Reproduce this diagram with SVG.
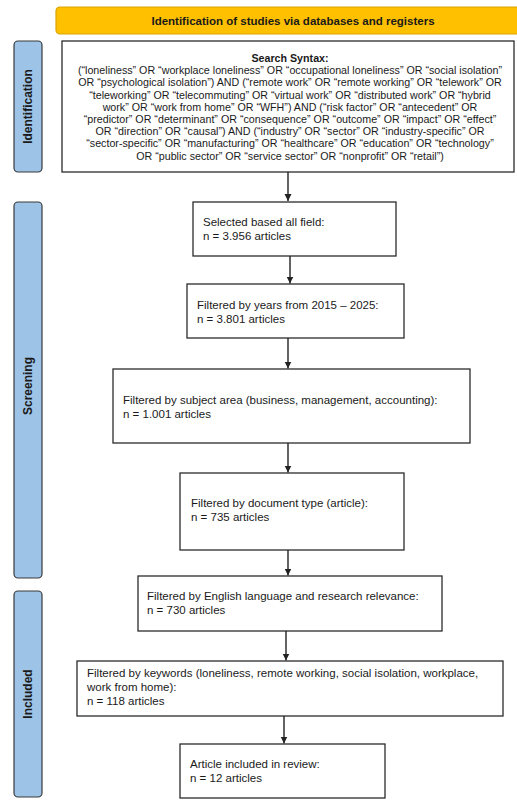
<svg xmlns="http://www.w3.org/2000/svg" width="517" height="802" viewBox="0 0 517 802">
<style>
.bg{fill:#ffffff}
.hdr{fill:#FFC000;stroke:#D9A300;stroke-width:1.2}
.side{fill:#9DC3E6;stroke:#3a3a3a;stroke-width:1.2}
.box{fill:#ffffff;stroke:#2b2b2b;stroke-width:1.3}
.t{font-family:"Liberation Sans",Arial,sans-serif;font-size:11.5px;fill:#1a1a1a}
.s{font-family:"Liberation Sans",Arial,sans-serif;font-size:10.7px;fill:#1a1a1a;text-anchor:middle}
.b{font-family:"Liberation Sans",Arial,sans-serif;font-weight:bold;fill:#1a1a1a;text-anchor:middle}
.c{stroke:#222;stroke-width:1.4;fill:none;marker-end:url(#ah)}
</style>
<defs>
<marker id="ah" markerWidth="8" markerHeight="8" refX="7" refY="4" orient="auto" markerUnits="userSpaceOnUse">
<path d="M0,0.5 L7,4 L0,7.5 Z" fill="#222"/>
</marker>
</defs>
<rect class="bg" x="0" y="0" width="517" height="802"/>

<g id="header">
<rect class="hdr" x="56" y="7" width="476" height="27" rx="4"/>
<text class="b" x="293" y="25" font-size="11.5">Identification of studies via databases and registers</text>
</g>

<g id="stage-identification">
<rect class="side" x="14" y="41" width="28" height="131" rx="4"/>
<text class="b" font-size="12" transform="translate(31.5,106.5) rotate(-90)">Identification</text>
</g>
<g id="stage-screening">
<rect class="side" x="14" y="202" width="28" height="376" rx="4"/>
<text class="b" font-size="12" transform="translate(31.5,386) rotate(-90)">Screening</text>
</g>
<g id="stage-included">
<rect class="side" x="14" y="591" width="28" height="206" rx="4"/>
<text class="b" font-size="12" transform="translate(31.5,694) rotate(-90)">Included</text>
</g>

<g id="search">
<rect class="box" x="62" y="41" width="452" height="131"/>
<text class="b" x="290" y="62" font-size="10.7">Search Syntax:</text>
<text class="s" x="290" y="74.2">(“loneliness” OR “workplace loneliness” OR “occupational loneliness” OR “social isolation”</text>
<text class="s" x="290" y="86.4">OR “psychological isolation”) AND (“remote work” OR “remote working” OR “telework” OR</text>
<text class="s" x="290" y="98.6">“teleworking” OR “telecommuting” OR “virtual work” OR “distributed work” OR “hybrid</text>
<text class="s" x="290" y="110.8">work” OR “work from home” OR “WFH”) AND (“risk factor” OR “antecedent” OR</text>
<text class="s" x="290" y="123">“predictor” OR “determinant” OR “consequence” OR “outcome” OR “impact” OR “effect”</text>
<text class="s" x="290" y="135.2">OR “direction” OR “causal”) AND (“industry” OR “sector” OR “industry-specific” OR</text>
<text class="s" x="290" y="147.4">“sector-specific” OR “manufacturing” OR “healthcare” OR “education” OR “technology”</text>
<text class="s" x="290" y="159.6">OR “public sector” OR “service sector” OR “nonprofit” OR “retail”)</text>
</g>

<g id="selected">
<rect class="box" x="193" y="202" width="203" height="54"/>
<text class="t" x="203" y="226">Selected based all field:</text>
<text class="t" x="203" y="240">n = 3.956 articles</text>
</g>

<g id="years">
<rect class="box" x="187" y="284" width="217" height="54"/>
<text class="t" x="197" y="309">Filtered by years from 2015 – 2025:</text>
<text class="t" x="197" y="323">n = 3.801 articles</text>
</g>

<g id="subject">
<rect class="box" x="113" y="369" width="357" height="74"/>
<text class="t" x="123" y="404">Filtered by subject area (business, management, accounting):</text>
<text class="t" x="123" y="418">n = 1.001 articles</text>
</g>

<g id="doctype">
<rect class="box" x="180" y="473" width="224" height="77"/>
<text class="t" x="191" y="507">Filtered by document type (article):</text>
<text class="t" x="191" y="521">n = 735 articles</text>
</g>

<g id="english">
<rect class="box" x="138" y="576" width="304" height="55"/>
<text class="t" x="147" y="600">Filtered by English language and research relevance:</text>
<text class="t" x="147" y="614">n = 730 articles</text>
</g>

<g id="keywords">
<rect class="box" x="77" y="661" width="426" height="55"/>
<text class="t" x="87" y="677">Filtered by keywords (loneliness, remote working, social isolation, workplace,</text>
<text class="t" x="87" y="691">work from home):</text>
<text class="t" x="87" y="705">n = 118 articles</text>
</g>

<g id="article">
<rect class="box" x="180" y="744" width="205" height="54"/>
<text class="t" x="190" y="768">Article included in review:</text>
<text class="t" x="190" y="782">n = 12 articles</text>
</g>

<g id="connectors">
<line class="c" x1="288" y1="172" x2="288" y2="201"/>
<line class="c" x1="290" y1="256" x2="290" y2="283.5"/>
<line class="c" x1="288" y1="338" x2="288" y2="368.5"/>
<line class="c" x1="288" y1="443" x2="288" y2="472.5"/>
<line class="c" x1="288" y1="550" x2="288" y2="575.5"/>
<line class="c" x1="286" y1="631" x2="286" y2="660.5"/>
<line class="c" x1="284" y1="716" x2="284" y2="743.5"/>
</g>
</svg>
